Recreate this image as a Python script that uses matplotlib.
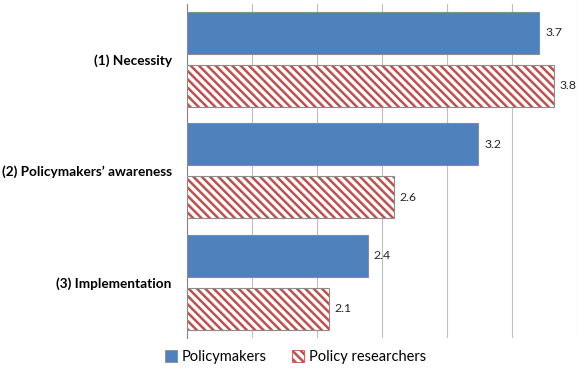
import numpy as np
import matplotlib.pyplot as plt
from matplotlib.patches import Patch

categories = ["(1) Necessity", "(2) Policymakers\u2019 awareness", "(3) Implementation"]
policymakers = [3.71, 3.24, 2.39]
researchers = [3.82, 2.59, 2.09]
pm_labels = ["3.7", "3.2", "2.4"]
res_labels = ["3.8", "2.6", "2.1"]

blue = "#4F81BD"
red = "#C0504D"
edge = "#8C8C8C"

plt.rcParams["font.family"] = ["Lato", "DejaVu Sans"]
plt.rcParams["hatch.linewidth"] = 1.8

fig = plt.figure(figsize=(5.85, 3.70), dpi=100)
ax = fig.add_axes([0.3197, 0.0865, 0.6666, 0.9034])

y = np.arange(len(categories))
h = 0.377
off = 0.238

ax.barh(y - off, np.array(policymakers) - 1, left=1, height=h,
        color=blue, edgecolor=edge, linewidth=0.8, zorder=3)
# hatched bars: hatch drawn in red, then grey outline on top
ax.barh(y + off, np.array(researchers) - 1, left=1, height=h,
        color="white", edgecolor=red, linewidth=0, hatch="\\\\\\\\", zorder=3)
ax.barh(y + off, np.array(researchers) - 1, left=1, height=h,
        fill=False, edgecolor=edge, linewidth=0.8, zorder=4)

for i in range(len(categories)):
    ax.text(policymakers[i] + 0.045, y[i] - off, pm_labels[i],
            va="center", ha="left", fontsize=8.8, color="#262626")
    ax.text(researchers[i] + 0.045, y[i] + off, res_labels[i],
            va="center", ha="left", fontsize=8.8, color="#262626")

ax.set_xlim(1, 4)
ax.set_ylim(2.5, -0.5)
ax.set_xticks(np.arange(1, 4.01, 0.5))
ax.set_xticklabels([])
ax.tick_params(axis="x", length=0)
ax.set_yticks(y)
ax.set_yticklabels(categories, fontweight="bold", fontsize=9.8)
ax.tick_params(axis="y", length=0, pad=11)

ax.grid(axis="x", color="#BFBFBF", linewidth=0.8)
ax.set_axisbelow(True)
for s in ["top", "right", "bottom"]:
    ax.spines[s].set_visible(False)
ax.spines["left"].set_color("#868686")
ax.spines["left"].set_linewidth(0.8)

handles = [Patch(facecolor=blue, edgecolor=edge, linewidth=0.6, label="Policymakers"),
           Patch(facecolor="white", edgecolor=red, hatch="\\\\\\\\", linewidth=0.6,
                 label="Policy researchers")]
fig.legend(handles=handles, loc="center", bbox_to_anchor=(0.505, 0.035), ncol=2,
           frameon=False, fontsize=10.5, handlelength=0.8, handleheight=0.8,
           handletextpad=0.3, columnspacing=1.8)

fig.savefig("out.png", dpi=100)
